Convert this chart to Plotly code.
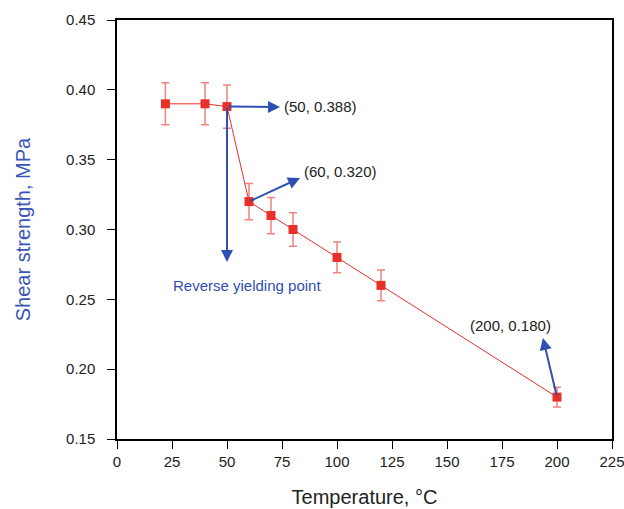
import plotly.graph_objects as go

temperature = [22, 40, 50, 60, 70, 80, 100, 120, 200]
shear_strength = [0.390, 0.390, 0.388, 0.320, 0.310, 0.300, 0.280, 0.260, 0.180]
error = [0.015, 0.015, 0.0155, 0.013, 0.013, 0.012, 0.011, 0.011, 0.007]
x_ticks = [0, 25, 50, 75, 100, 125, 150, 175, 200, 225]
y_ticks = [0.15, 0.20, 0.25, 0.30, 0.35, 0.40, 0.45]

RED = "#e8302a"
BLUE = "#2f4fb3"
FONT = "Liberation Sans, Arial, sans-serif"

fig = go.Figure()
fig.add_trace(go.Scatter(
    x=temperature, y=shear_strength, mode="lines+markers",
    line=dict(color=RED, width=1),
    marker=dict(symbol="square", size=9, color=RED),
    error_y=dict(type="data", array=error, visible=True,
                 color="rgba(232,48,42,0.6)", thickness=1.5, width=4),
    showlegend=False,
    cliponaxis=False,
))

def arrow(x0, y0, x1, y1):
    fig.add_annotation(x=x1, y=y1, ax=x0, ay=y0, xref="x", yref="y",
                       axref="x", ayref="y", text="", showarrow=True,
                       arrowhead=2, arrowsize=1.2, arrowwidth=2,
                       arrowcolor=BLUE, standoff=0, startstandoff=0)

# arrows from data points to labels
arrow(temperature[2], shear_strength[2], 74.1, 0.3877)
arrow(temperature[2], shear_strength[2], 50, 0.2768)
arrow(temperature[3], shear_strength[3], 83.2, 0.3369)
arrow(temperature[8], shear_strength[8], 193.6, 0.2224)

def label(x, y, text, color="#222222", xanchor="left"):
    fig.add_annotation(x=x, y=y, xref="x", yref="y", text=text, showarrow=False,
                       xanchor=xanchor, yanchor="middle",
                       font=dict(family=FONT, size=15, color=color))

label(75.0, 0.388, "(50, 0.388)")
label(84.0, 0.3412, "(60, 0.320)")
label(59.1, 0.2596, "Reverse yielding point", color=BLUE, xanchor="center")
label(179, 0.231, "(200, 0.180)", xanchor="center")

axis_common = dict(showgrid=False, zeroline=False, showline=True, linecolor="black",
                   linewidth=1.5, mirror=True, ticks="outside", ticklen=8,
                   tickcolor="black", tickwidth=1, automargin=False,
                   ticklabeloverflow="allow",
                   tickfont=dict(family=FONT, size=15, color="#222222"))

fig.update_xaxes(range=[0, 225], tickvals=x_ticks, ticktext=[str(v) for v in x_ticks],
                 title=dict(text="Temperature, °C", font=dict(family=FONT, size=20, color="#222222"),
                            standoff=21),
                 **axis_common)
fig.update_yaxes(range=[0.15, 0.45], tickvals=y_ticks, ticktext=[f"{v:.2f}" for v in y_ticks],
                 ticklabelstandoff=9,
                 title=dict(text="Shear strength, MPa", font=dict(family=FONT, size=20, color="#3a55b8"),
                            standoff=30),
                 **axis_common)

fig.update_layout(width=624, height=509, margin=dict(l=117, r=12, t=20, b=70),
                  plot_bgcolor="white", paper_bgcolor="white")

fig.write_html("out.html",
               config={"displayModeBar": False},
               post_script="document.body.style.margin='0';document.body.style.overflow='hidden';")
